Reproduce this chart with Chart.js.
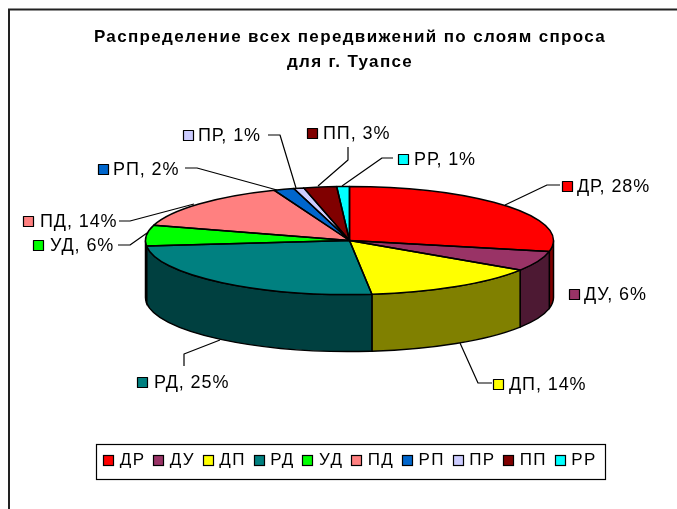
<!DOCTYPE html>
<html>
<head>
<meta charset="utf-8">
<script src="https://cdn.jsdelivr.net/npm/chart.js@4"></script>
<style>
    html, body { margin: 0; padding: 0; background: #fff; }
    canvas { display: block; }
</style>
</head>
<body>
<canvas id="pie3d" width="677" height="509"></canvas>
<script>
const titleLines = ['Распределение всех передвижений по слоям спроса', 'для г. Туапсе'];
const categories = ['ДР', 'ДУ', 'ДП', 'РД', 'УД', 'ПД', 'РП', 'ПР', 'ПП', 'РР'];
const shares = [28.2, 6.0, 14.0, 25.1, 6.2, 14.4, 1.6, 0.8, 2.6, 1.0];
const topColors = ['#FF0000', '#993366', '#FFFF00', '#008080', '#00FF00', '#FF8080', '#0066CC', '#CCCCFF', '#800000', '#00FFFF'];
const sideColors = ['#800000', '#4D1933', '#808000', '#004040', '#008000', '#804040', '#003366', '#666680', '#400000', '#008080'];

// Where each outside label sits: key x, text x, text y, then the leader line
const labelSpots = [
    { key: 562, text: 577, y: 186, line: [[505, 205], [547, 185], [560, 185]] },
    { key: 569, text: 584, y: 294, line: [] },
    { key: 493, text: 509, y: 384, line: [[460, 343], [478, 383], [492, 383]] },
    { key: 137, text: 154, y: 382, line: [[220, 340], [184, 354], [184, 366]] },
    { key: 33, text: 50, y: 245, line: [[118, 245], [130, 245], [147, 233]] },
    { key: 23, text: 40, y: 221, line: [[119, 221], [130, 221], [194, 204]] },
    { key: 98, text: 113, y: 169, line: [[185, 168], [197, 168], [277, 190]] },
    { key: 183, text: 198, y: 135, line: [[268, 135], [280, 135], [296, 188]] },
    { key: 307, text: 323, y: 133, line: [[348, 147], [348, 160], [318, 186]] },
    { key: 398, text: 414, y: 159, line: [[393, 158], [382, 158], [342, 186]] }
];

const fontFamily = '"Liberation Sans", Arial, sans-serif';
const keySize = 10;
const pieX = 349.5;
const pieY = 240.5;
const pieSquash = 54 / 204;
const pieDepth = 57;

function drawKey(ctx, x, y, color) {
    ctx.lineWidth = 1.2;
    ctx.strokeStyle = '#000';
    ctx.fillStyle = color;
    ctx.fillRect(x + 0.5, y - 4.5, keySize, keySize);
    ctx.strokeRect(x + 0.5, y - 4.5, keySize, keySize);
}

// Chart.js has no 3D pie, so squash its arcs and add the side wall around them
const pie3dPlugin = {
    id: 'pie3d',
    beforeUpdate(chart) {
        // the reference text is spaced wider than the font; title and legend pick this up
        chart.ctx.letterSpacing = '1.35px';
    },
    beforeDraw(chart) {
        const ctx = chart.ctx;
        ctx.save();
        ctx.strokeStyle = '#222';
        ctx.lineWidth = 2;
        ctx.beginPath();
        ctx.moveTo(9, 509);
        ctx.lineTo(9, 9.5);
        ctx.lineTo(677, 9.5);
        ctx.stroke();
        ctx.restore();
    },
    beforeDatasetsDraw(chart) {
        const ctx = chart.ctx;
        const arcs = chart.getDatasetMeta(0).data;
        ctx.save();
        ctx.lineWidth = 1.5;
        ctx.strokeStyle = '#000';
        arcs.forEach(function (arc, i) {
            const from = Math.max(arc.startAngle, 0);
            const to = Math.min(arc.endAngle, Math.PI);
            if (from >= to) return;
            const rx = arc.outerRadius;
            const ry = rx * pieSquash;
            ctx.beginPath();
            ctx.ellipse(pieX, pieY, rx, ry, 0, from, to);
            ctx.ellipse(pieX, pieY + pieDepth, rx, ry, 0, to, from, true);
            ctx.closePath();
            ctx.fillStyle = sideColors[i];
            ctx.fill();
            ctx.stroke();
        });
        ctx.restore();

        // the library fills the slices inside this transform
        const first = arcs[0];
        ctx.save();
        ctx.translate(pieX, pieY);
        ctx.scale(1, pieSquash);
        ctx.translate(-first.x, -first.y);
    },
    afterDatasetsDraw(chart) {
        const ctx = chart.ctx;
        ctx.restore();

        // outlines after the restore so the line width stays even
        ctx.save();
        ctx.lineWidth = 1.5;
        ctx.strokeStyle = '#000';
        ctx.lineJoin = 'round';
        chart.getDatasetMeta(0).data.forEach(function (arc) {
            const rx = arc.outerRadius;
            ctx.beginPath();
            ctx.moveTo(pieX, pieY);
            ctx.ellipse(pieX, pieY, rx, rx * pieSquash, 0, arc.startAngle, arc.endAngle);
            ctx.closePath();
            ctx.stroke();
        });

        // outside labels with leader lines
        ctx.font = '18px ' + fontFamily;
        ctx.letterSpacing = '0.9px';
        ctx.textBaseline = 'middle';
        categories.forEach(function (name, i) {
            const spot = labelSpots[i];
            if (spot.line.length) {
                ctx.lineWidth = 1.2;
                ctx.strokeStyle = '#000';
                ctx.beginPath();
                spot.line.forEach(function (p, j) {
                    if (j === 0) ctx.moveTo(p[0], p[1]);
                    else ctx.lineTo(p[0], p[1]);
                });
                ctx.stroke();
            }
            drawKey(ctx, spot.key, spot.y, topColors[i]);
            ctx.fillStyle = '#000';
            ctx.fillText(name + ', ' + Math.round(shares[i]) + '%', spot.text, spot.y + 1);
        });
        ctx.restore();
    },
    afterDraw(chart) {
        // legend keys and the box round the legend
        const hits = chart.legend.legendHitBoxes;
        const ctx = chart.ctx;
        ctx.save();
        hits.forEach(function (hit, i) {
            drawKey(ctx, Math.round(hit.left), Math.round(hit.top + hit.height / 2) - 1, topColors[i]);
        });
        const left = hits[0].left - 7;
        const last = hits[hits.length - 1];
        const right = last.left + last.width + 9;
        const middle = chart.legend.top + chart.legend.height / 2;
        ctx.strokeStyle = '#000';
        ctx.lineWidth = 1.2;
        ctx.strokeRect(Math.round(left) + 0.5, Math.round(middle - 17.5) + 0.5, Math.round(right - left), 35);
        ctx.restore();
    }
};

new Chart(document.getElementById('pie3d').getContext('2d'), {
    type: 'pie',
    data: {
        labels: categories,
        datasets: [{
            data: shares,
            backgroundColor: topColors,
            borderWidth: 0,
            clip: false
        }]
    },
    options: {
        responsive: false,
        animation: false,
        radius: 204,
        layout: { padding: { top: 25, bottom: 30, left: 23, right: 0 } },
        plugins: {
            tooltip: { enabled: false },
            title: {
                display: true,
                text: titleLines,
                color: '#000',
                font: { family: fontFamily, size: 17, weight: 'bold', lineHeight: 1.47 },
                padding: 0
            },
            legend: {
                position: 'bottom',
                labels: {
                    color: '#000',
                    font: { family: fontFamily, size: 17 },
                    boxWidth: 8,
                    boxHeight: 8,
                    padding: 7.9,
                    generateLabels: function () {
                        return categories.map(function (name, i) {
                            return { text: name, fillStyle: 'rgba(0,0,0,0)', strokeStyle: 'rgba(0,0,0,0)', lineWidth: 0, index: i };
                        });
                    }
                }
            }
        }
    },
    plugins: [pie3dPlugin]
});
</script>
</body>
</html>
